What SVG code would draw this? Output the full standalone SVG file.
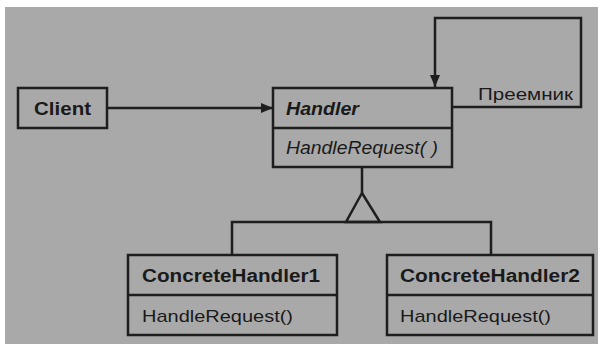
<svg xmlns="http://www.w3.org/2000/svg" width="601" height="350" viewBox="0 0 601 350">
<defs>
<style>
.box{fill:#a9a9a9;stroke:#1e1e1e;stroke-width:2.5}
.ln{fill:none;stroke:#1e1e1e;stroke-width:2.5}
.t{font-family:"Liberation Sans",Arial,sans-serif;fill:#1a1a1a}
.b{font-weight:bold}
.i{font-style:italic}
</style>
<marker id="arr" viewBox="0 0 12 10" refX="12" refY="5" markerWidth="12" markerHeight="10" markerUnits="userSpaceOnUse" orient="auto">
<path d="M0,0 L12,5 L0,10 Z" fill="#1e1e1e"/>
</marker>
</defs>
<rect x="0" y="0" width="601" height="350" fill="#ffffff"/>
<rect x="5" y="7" width="593" height="337" fill="#a9a9a9"/>
<g id="connectors">
<line class="ln" x1="107" y1="108" x2="273" y2="108" marker-end="url(#arr)"/>
<polyline class="ln" points="452,107 581,107 581,18 435,18 435,87" marker-end="url(#arr)"/>
<line class="ln" x1="362" y1="167" x2="362" y2="193"/>
<polygon class="ln" points="362,193 346,222 380,222"/>
<polyline class="ln" points="232,255 232,222 491,222 491,255"/>
<text class="t" x="478" y="100" font-size="17" textLength="95" lengthAdjust="spacingAndGlyphs">Преемник</text>
</g>
<g id="client">
<rect class="box" x="18" y="88" width="89" height="40"/>
<text class="t b" x="34" y="115" font-size="19" textLength="57" lengthAdjust="spacingAndGlyphs">Client</text>
</g>
<g id="handler">
<rect class="box" x="273" y="88" width="179" height="79"/>
<line class="ln" x1="273" y1="128" x2="452" y2="128"/>
<text class="t b i" x="286" y="115" font-size="19" textLength="73" lengthAdjust="spacingAndGlyphs">Handler</text>
<text class="t i" x="286" y="154" font-size="18" textLength="152" lengthAdjust="spacingAndGlyphs">HandleRequest( )</text>
</g>
<g id="concrete1">
<rect class="box" x="128" y="255" width="209" height="80"/>
<line class="ln" x1="128" y1="295" x2="337" y2="295"/>
<text class="t b" x="142" y="282" font-size="18" textLength="178" lengthAdjust="spacingAndGlyphs">ConcreteHandler1</text>
<text class="t" x="142" y="322" font-size="17" textLength="151" lengthAdjust="spacingAndGlyphs">HandleRequest()</text>
</g>
<g id="concrete2">
<rect class="box" x="387" y="255" width="206" height="80"/>
<line class="ln" x1="387" y1="295" x2="593" y2="295"/>
<text class="t b" x="400" y="282" font-size="18" textLength="180" lengthAdjust="spacingAndGlyphs">ConcreteHandler2</text>
<text class="t" x="400" y="322" font-size="17" textLength="151" lengthAdjust="spacingAndGlyphs">HandleRequest()</text>
</g>
</svg>
